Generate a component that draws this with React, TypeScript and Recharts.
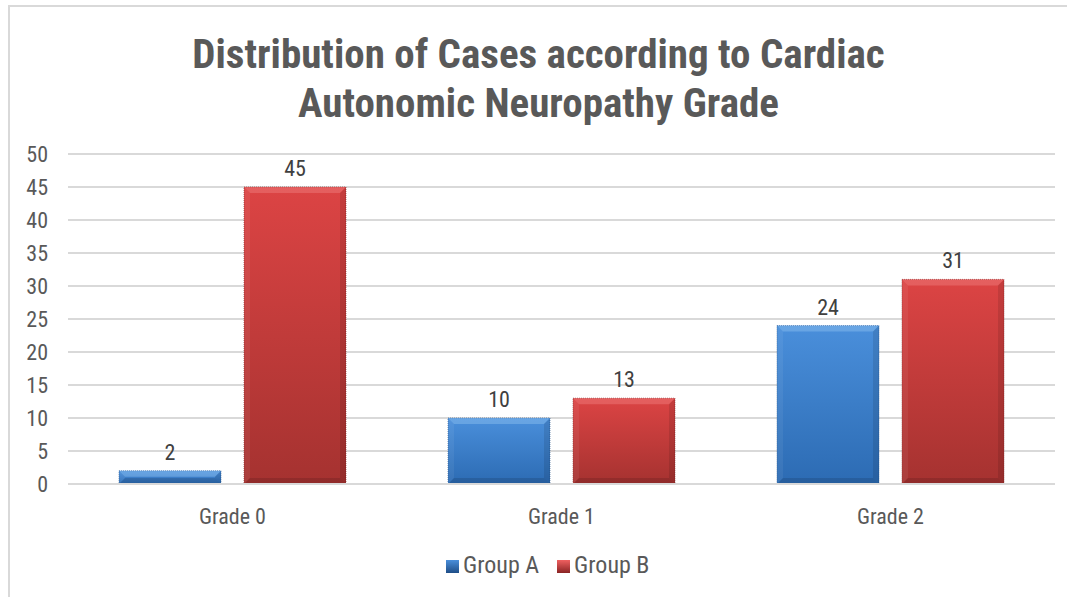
import React from "react";
import { BarChart, Bar, XAxis, YAxis, CartesianGrid, LabelList } from "recharts";

const categories = ["Grade 0", "Grade 1", "Grade 2"];
const groupA = [2, 10, 24];
const groupB = [45, 13, 31];
const yTicks = [0, 5, 10, 15, 20, 25, 30, 35, 40, 45, 50];
const seriesNames = ["Group A", "Group B"];

const data = categories.map((c, i) => ({ name: c, a: groupA[i], b: groupB[i] }));

const FONT = "'Liberation Sans Narrow', 'Arial Narrow', 'Roboto Condensed', sans-serif";
const TEXT = "#595959";

const BevelBar = (props: any) => {
  const { x, y, width, height, gid, edge, light } = props;
  if (!height || height <= 0) return null;
  const b = Math.min(6, height / 2, width / 2);
  return (
    <g>
      <rect x={x} y={y} width={width} height={height} fill={`url(#${gid})`} stroke={edge} strokeWidth={0.6} strokeDasharray="1 1" />
      <polygon points={`${x},${y} ${x + width},${y} ${x + width - b},${y + b} ${x + b},${y + b}`} fill={light} opacity={0.45} />
      <polygon points={`${x},${y} ${x + b},${y + b} ${x + b},${y + height - b} ${x},${y + height}`} fill="#ffffff" opacity={0.06} />
      <polygon points={`${x + width},${y} ${x + width - b},${y + b} ${x + width - b},${y + height - b} ${x + width},${y + height}`} fill="#000000" opacity={0.1} />
      <polygon points={`${x},${y + height} ${x + b},${y + height - b} ${x + width - b},${y + height - b} ${x + width},${y + height}`} fill="#000000" opacity={0.12} />
    </g>
  );
};

const LegendIcon = ({ c1, c2 }: { c1: string; c2: string }) => (
  <span style={{ display: "inline-block", width: 13, height: 13, background: `linear-gradient(${c1}, ${c2})`, marginRight: 4, verticalAlign: "0px" }} />
);

export default function App() {
  return (
    <div style={{ position: "absolute", left: 0, top: 0, width: 1067, height: 597, background: "#fff", overflow: "hidden" }}>
      <div style={{ position: "absolute", left: 8, top: 5, width: 1067, height: 600, borderTop: "2px solid #d9d9d9", borderLeft: "2px solid #d9d9d9" }} />
      <div style={{ position: "absolute", left: 0, top: 30, width: 1077, textAlign: "center", fontFamily: FONT, fontWeight: "bold", fontSize: 41, lineHeight: "49px", color: TEXT }}>
        Distribution of Cases according to Cardiac
        <br />
        Autonomic Neuropathy Grade
      </div>
      <BarChart width={1067} height={597} data={data} margin={{ top: 154, right: 12, bottom: 83, left: 28 }} barGap={23} barSize={102}>
        <defs>
          <linearGradient id="gA" x1="0" y1="0" x2="0" y2="1">
            <stop offset="0%" stopColor="#4a8fdb" />
            <stop offset="100%" stopColor="#2c6bb3" />
          </linearGradient>
          <linearGradient id="gB" x1="0" y1="0" x2="0" y2="1">
            <stop offset="0%" stopColor="#dc4444" />
            <stop offset="100%" stopColor="#a53230" />
          </linearGradient>
        </defs>
        <CartesianGrid vertical={false} stroke="#d9d9d9" strokeWidth={2} />
        <XAxis dataKey="name" height={30} axisLine={{ stroke: "#d9d9d9", strokeWidth: 2 }} tickLine={false} tickSize={0} tickMargin={24} tick={{ fill: TEXT, fontSize: 22, fontFamily: FONT }} />
        <YAxis width={40} domain={[0, 50]} ticks={yTicks} axisLine={false} tickLine={false} tickSize={0} tickMargin={20} tick={{ fill: TEXT, fontSize: 22, fontFamily: FONT }} />
        <Bar dataKey="a" name={seriesNames[0]} isAnimationActive={false} shape={(p: any) => <BevelBar {...p} gid="gA" edge="#1f4e87" light="#8dc0f0" />}>
          <LabelList dataKey="a" position="top" offset={11} style={{ fill: "#404040", fontSize: 22, fontFamily: FONT }} />
        </Bar>
        <Bar dataKey="b" name={seriesNames[1]} isAnimationActive={false} shape={(p: any) => <BevelBar {...p} gid="gB" edge="#7a2020" light="#f08080" />}>
          <LabelList dataKey="b" position="top" offset={11} style={{ fill: "#404040", fontSize: 22, fontFamily: FONT }} />
        </Bar>
      </BarChart>
      <div style={{ position: "absolute", left: 446, top: 551, fontFamily: FONT, fontSize: 24, color: TEXT, whiteSpace: "nowrap" }}>
        <LegendIcon c1="#4a8fdb" c2="#1f4e87" />
        <span style={{ marginRight: 18 }}>{seriesNames[0]}</span>
        <LegendIcon c1="#ef6060" c2="#8a2424" />
        <span>{seriesNames[1]}</span>
      </div>
    </div>
  );
}
